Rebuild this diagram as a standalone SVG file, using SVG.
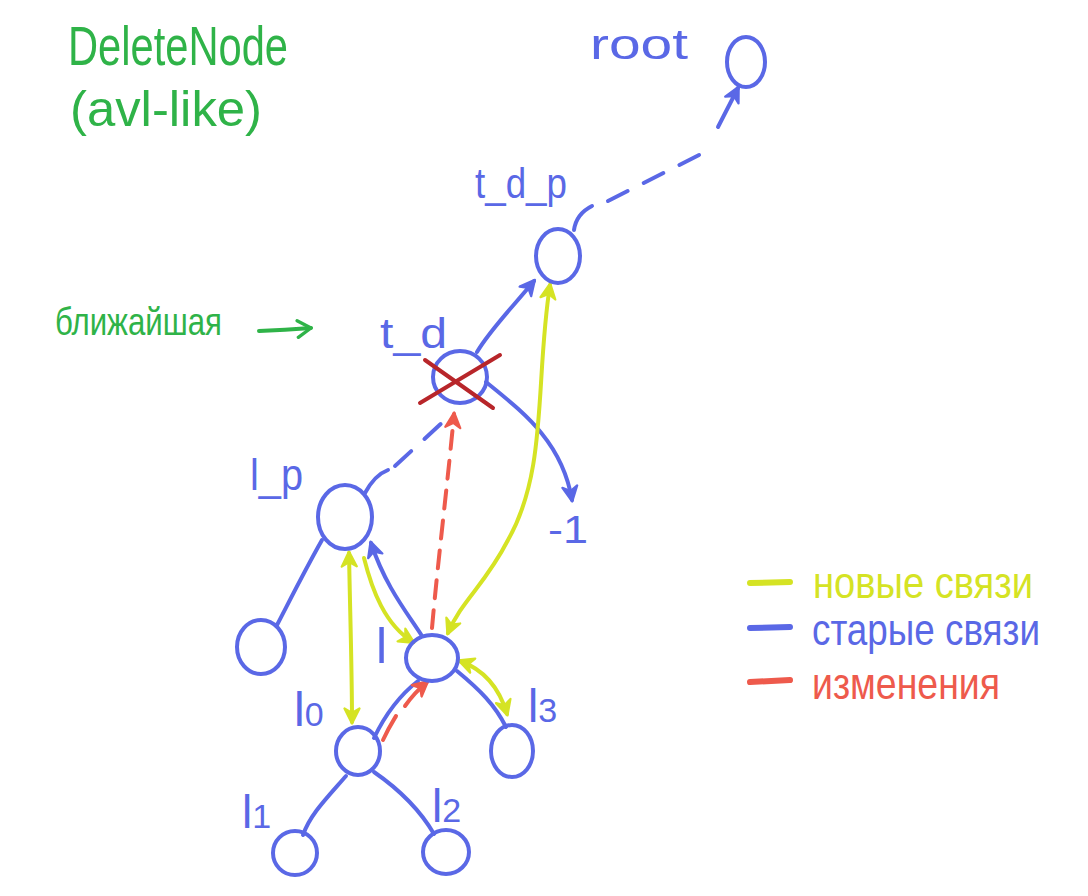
<svg xmlns="http://www.w3.org/2000/svg" width="1088" height="896" viewBox="0 0 1088 896">
<defs>
<style>
.node{fill:none;stroke:#5a68e6;stroke-width:4}
.b{fill:none;stroke:#5a68e6;stroke-width:4;stroke-linecap:round}
.y{fill:none;stroke:#d5e324;stroke-width:4;stroke-linecap:round}
.r{fill:none;stroke:#ee5a4c;stroke-width:4;stroke-linecap:round}
.dash{stroke-dasharray:22 18}
.rdash{stroke-dasharray:18 12}
.tb{font-family:"Liberation Sans","DejaVu Sans",sans-serif;fill:#5a68e6}
.tg{font-family:"Liberation Sans","DejaVu Sans",sans-serif;fill:#2fb348}
.ty{font-family:"Liberation Sans","DejaVu Sans",sans-serif;fill:#d5e324}
.tr{font-family:"Liberation Sans","DejaVu Sans",sans-serif;fill:#ee5a4c}
</style>
<marker id="ab" viewBox="0 0 12 12" refX="10" refY="6" markerWidth="18" markerHeight="18" markerUnits="userSpaceOnUse" orient="auto-start-reverse"><path d="M1,1 L11,6 L1,11 L4,6 Z" fill="#5a68e6" stroke="#5a68e6" stroke-width="1.5" stroke-linejoin="round"/></marker>
<marker id="ay" viewBox="0 0 12 12" refX="10" refY="6" markerWidth="18" markerHeight="18" markerUnits="userSpaceOnUse" orient="auto-start-reverse"><path d="M1,1 L11,6 L1,11 L4,6 Z" fill="#d5e324" stroke="#d5e324" stroke-width="1.5" stroke-linejoin="round"/></marker>
<marker id="ar" viewBox="0 0 12 12" refX="10" refY="6" markerWidth="18" markerHeight="18" markerUnits="userSpaceOnUse" orient="auto-start-reverse"><path d="M1,1 L11,6 L1,11 L4,6 Z" fill="#ee5a4c" stroke="#ee5a4c" stroke-width="1.5" stroke-linejoin="round"/></marker>
<marker id="ag" viewBox="0 0 12 12" refX="10" refY="6" markerWidth="20" markerHeight="20" markerUnits="userSpaceOnUse" orient="auto"><path d="M2,1 L10,6 L2,11" fill="none" stroke="#2fb348" stroke-width="2" stroke-linecap="round" stroke-linejoin="round"/></marker>
</defs>
<rect width="1088" height="896" fill="#ffffff"/>

<g id="title">
<text class="tg" x="68" y="65" font-size="56" textLength="220" lengthAdjust="spacingAndGlyphs">DeleteNode</text>
<text class="tg" x="70" y="126" font-size="50" textLength="192" lengthAdjust="spacingAndGlyphs">(avl-like)</text>
</g>

<g id="nearest-note">
<text class="tg" x="55" y="335" font-size="38" textLength="167" lengthAdjust="spacingAndGlyphs">ближайшая</text>
<path d="M259,331 Q285,330 311,328" fill="none" stroke="#2fb348" stroke-width="4" stroke-linecap="round" marker-end="url(#ag)"/>
</g>

<g id="connectors">
<!-- t_d_p to root -->
<path class="b" d="M574,230 C576,216 584,210 592,206"/>
<path class="b dash" d="M608,201 L705,152"/>
<path class="b" d="M718,127 L738,88" marker-end="url(#ab)"/>
<!-- t_d to t_d_p -->
<path class="b" d="M477,352 C490,330 510,310 534,281" marker-end="url(#ab)"/>
<!-- t_d to -1 -->
<path class="b" d="M486,382 C520,410 562,440 572,500" marker-end="url(#ab)"/>
<!-- l_p to t_d dashed -->
<path class="b" d="M365,493 C372,480 380,473 388,470"/>
<path class="b dash" d="M395,466 L445,420" stroke-dasharray="16 16"/>
<!-- l_p to left child -->
<path class="b" d="M322,540 C305,570 290,600 277,625"/>
<!-- l to l_p -->
<path class="b" d="M422,636 C405,610 385,585 371,543" marker-end="url(#ab)"/>
<!-- l to l0 -->
<path class="b" d="M418,681 C400,695 385,715 374,738"/>
<!-- l to l3 -->
<path class="b" d="M457,671 C480,690 495,705 506,727"/>
<!-- l0 to l1 -->
<path class="b" d="M346,776 C325,800 310,815 303,835"/>
<!-- l0 to l2 -->
<path class="b" d="M374,772 C400,790 420,810 434,834"/>
<!-- yellow l_p <-> l0 -->
<path class="y" d="M349,553 C350,610 352,670 352,722" marker-start="url(#ay)" marker-end="url(#ay)"/>
<!-- yellow l_p -> l -->
<path class="y" d="M364,558 C372,590 385,625 413,642" marker-end="url(#ay)"/>
<!-- yellow t_d_p <-> l -->
<path class="y" d="M550,285 C535,380 548,470 508,540 C485,585 462,600 448,633" marker-start="url(#ay)" marker-end="url(#ay)"/>
<!-- yellow l <-> l3 -->
<path class="y" d="M460,661 C485,670 500,690 507,714" marker-start="url(#ay)" marker-end="url(#ay)"/>
<!-- red dashed l -> t_d -->
<path class="r rdash" d="M432,628 C438,560 448,480 454,414" marker-end="url(#ar)"/>
<!-- red dashed l0 -> l -->
<path class="r" d="M383,740 C390,725 395,718 396,716"/>
<path class="r" d="M405,706 C412,696 420,688 427,682" marker-end="url(#ar)"/>
</g>

<g id="node-root">
<ellipse class="node" cx="746" cy="62" rx="19" ry="25"/>
<text class="tb" x="590" y="59" font-size="42" textLength="98" lengthAdjust="spacingAndGlyphs">root</text>
</g>
<g id="node-t_d_p">
<ellipse class="node" cx="558" cy="256" rx="22" ry="27"/>
<text class="tb" x="475" y="198" font-size="42" textLength="92" lengthAdjust="spacingAndGlyphs">t_d_p</text>
</g>
<g id="node-t_d">
<ellipse class="node" cx="460" cy="377" rx="27" ry="26"/>
<path d="M425,360 L493,408 M420,403 L500,355" fill="none" stroke="#b8262a" stroke-width="4" stroke-linecap="round"/>
<text class="tb" x="380" y="348" font-size="42" textLength="67" lengthAdjust="spacingAndGlyphs">t_d</text>
</g>
<g id="node-l_p">
<ellipse class="node" cx="345" cy="517" rx="27" ry="32"/>
<text class="tb" x="250" y="490" font-size="44" textLength="53" lengthAdjust="spacingAndGlyphs">l_p</text>
</g>
<g id="node-lp-left">
<ellipse class="node" cx="261" cy="647" rx="24" ry="27"/>
</g>
<g id="node-l">
<ellipse class="node" cx="432" cy="658" rx="26" ry="23"/>
<text class="tb" x="376" y="663" font-size="50">l</text>
</g>
<g id="node-l0">
<ellipse class="node" cx="358" cy="751" rx="22" ry="24"/>
<text class="tb" x="294" y="726" font-size="48">l<tspan font-size="34">0</tspan></text>
</g>
<g id="node-l3">
<ellipse class="node" cx="512" cy="751" rx="21" ry="26"/>
<text class="tb" x="528" y="722" font-size="46">l<tspan font-size="34">3</tspan></text>
</g>
<g id="node-l1">
<ellipse class="node" cx="295" cy="853" rx="22" ry="22"/>
<text class="tb" x="242" y="828" font-size="46">l<tspan font-size="34">1</tspan></text>
</g>
<g id="node-l2">
<ellipse class="node" cx="446" cy="852" rx="23" ry="22"/>
<text class="tb" x="432" y="822" font-size="46">l<tspan font-size="34">2</tspan></text>
</g>
<g id="label-minus1">
<text class="tb" x="548" y="543" font-size="38" textLength="40" lengthAdjust="spacingAndGlyphs">-1</text>
</g>

<g id="legend">
<path d="M750,583 L790,582" stroke="#d5e324" stroke-width="6" stroke-linecap="round"/>
<text class="ty" x="813" y="598" font-size="44" textLength="220" lengthAdjust="spacingAndGlyphs">новые связи</text>
<path d="M750,628 L790,627" stroke="#5a68e6" stroke-width="6" stroke-linecap="round"/>
<text class="tb" x="812" y="645" font-size="44" textLength="228" lengthAdjust="spacingAndGlyphs">старые связи</text>
<path d="M750,682 L790,680" stroke="#ee5a4c" stroke-width="6" stroke-linecap="round"/>
<text class="tr" x="812" y="699" font-size="44" textLength="188" lengthAdjust="spacingAndGlyphs">изменения</text>
</g>
</svg>
